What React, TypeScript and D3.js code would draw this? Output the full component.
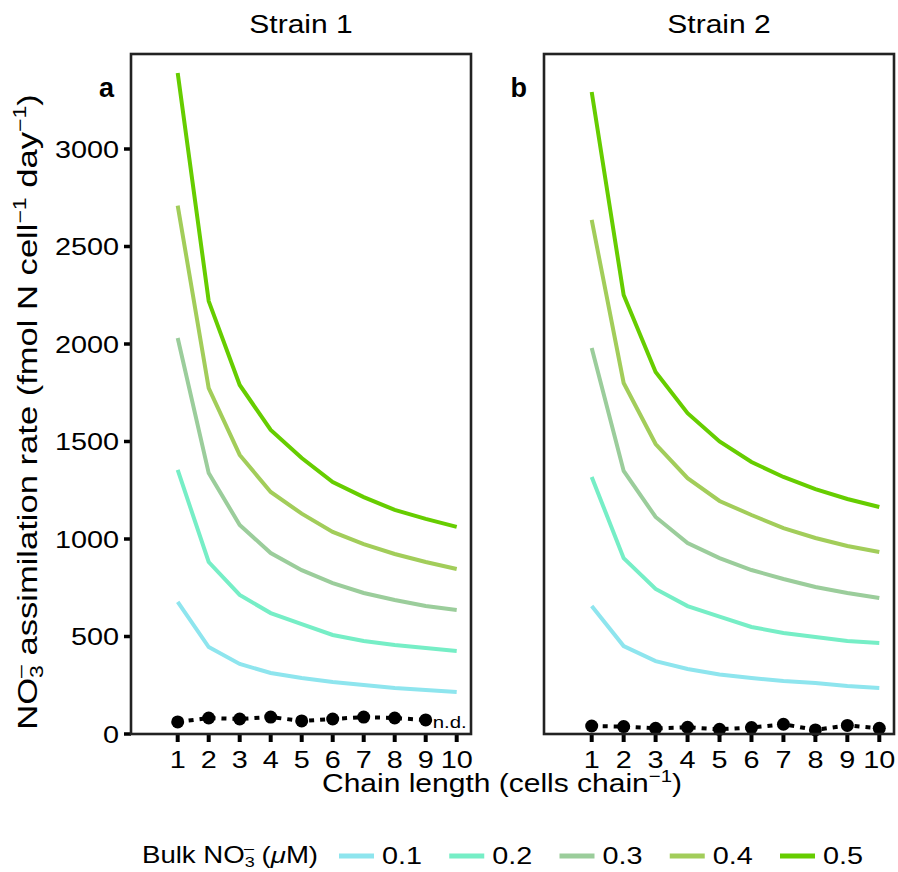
import React, { useRef, useEffect } from "react";
import * as d3 from "d3";

// chain length (cells per chain)
const chainLength = [1, 2, 3, 4, 5, 6, 7, 8, 9, 10];
const bulkLevels = ["0.1", "0.2", "0.3", "0.4", "0.5"];
const levelColors = ["#8EE5EE", "#76EEC6", "#9BCD9B", "#A2CD5A", "#66CD00"];
const yTicks = [0, 500, 1000, 1500, 2000, 2500, 3000];

// Strain 1 modelled rates
const s1Bulk01 = [677, 446, 359, 313, 287, 267, 251, 236, 226, 215];
const s1Bulk02 = [1354, 882, 713, 620, 563, 508, 477, 456, 441, 426];
const s1Bulk03 = [2031, 1338, 1072, 928, 840, 774, 723, 687, 656, 636];
const s1Bulk04 = [2710, 1774, 1431, 1241, 1130, 1036, 974, 923, 882, 846];
const s1Bulk05 = [3390, 2220, 1790, 1559, 1415, 1292, 1215, 1149, 1103, 1062];
// Strain 1 measured (chain 10 = n.d.)
const s1Measured = [62, 82, 77, 87, 67, 77, 87, 82, 72];

// Strain 2 modelled rates
const s2Bulk01 = [656, 451, 374, 333, 305, 287, 272, 262, 246, 236];
const s2Bulk02 = [1318, 902, 744, 656, 602, 549, 518, 497, 477, 467];
const s2Bulk03 = [1979, 1349, 1113, 979, 902, 841, 795, 754, 723, 697];
const s2Bulk04 = [2636, 1800, 1487, 1312, 1195, 1123, 1056, 1005, 964, 933];
const s2Bulk05 = [3292, 2251, 1856, 1645, 1500, 1395, 1318, 1256, 1205, 1164];
const s2Measured = [41, 38, 29, 34, 24, 33, 50, 21, 44, 29];

const FONT = "'Liberation Sans', Arial, Helvetica, sans-serif";
// the reference text is a bit wider than Liberation Sans
const SX = 1.2;

const App = () => {
  const svgRef = useRef(null);

  useEffect(() => {
    const svg = d3.select(svgRef.current);
    svg.selectAll("*").remove();

    const width = 898;
    const height = 872;
    svg.attr("width", width).attr("height", height).style("font-family", FONT);

    // text helper: stretched horizontally around its anchor point
    const label = (parent, x, y, size, anchor, rot = 0, sx = SX) =>
      parent
        .append("text")
        .attr("transform", `translate(${x},${y}) rotate(${rot}) scale(${sx},1)`)
        .attr("text-anchor", anchor)
        .attr("font-size", size);

    const top = 54;
    const bottom = 734;
    const y = d3.scaleLinear().domain([0, 3000]).range([bottom, 149]);

    const panels = [
      {
        title: "Strain 1",
        tag: "a",
        left: 131,
        right: 471,
        x: d3.scaleLinear().domain([1, 10]).range([177.7, 456.7]),
        series: [s1Bulk01, s1Bulk02, s1Bulk03, s1Bulk04, s1Bulk05],
        measured: s1Measured,
        yAxis: true,
        nd: true,
      },
      {
        title: "Strain 2",
        tag: "b",
        left: 544,
        right: 894,
        x: d3.scaleLinear().domain([1, 10]).range([591.7, 879.3]),
        series: [s2Bulk01, s2Bulk02, s2Bulk03, s2Bulk04, s2Bulk05],
        measured: s2Measured,
        yAxis: false,
        nd: false,
      },
    ];

    panels.forEach((p) => {
      const g = svg.append("g");

      // strip title
      label(g, (p.left + p.right) / 2, 33, 25, "middle").text(p.title);

      // panel tag
      label(g, p.left - 17, 97, 27, "end", 0, 1)
        .attr("font-weight", "bold")
        .text(p.tag);

      const line = d3
        .line<number>()
        .x((d, i) => p.x(chainLength[i]))
        .y((d) => y(d));

      p.series.forEach((vals, k) => {
        g.append("path")
          .attr("d", line(vals))
          .attr("fill", "none")
          .attr("stroke", levelColors[k])
          .attr("stroke-width", 4);
      });

      // measured values
      g.append("path")
        .attr("d", line(p.measured))
        .attr("fill", "none")
        .attr("stroke", "#000")
        .attr("stroke-width", 4)
        .attr("stroke-dasharray", "5,6");

      g.selectAll("circle.m")
        .data(p.measured)
        .enter()
        .append("circle")
        .attr("cx", (d, i) => p.x(chainLength[i]))
        .attr("cy", (d) => y(d))
        .attr("r", 6.5)
        .attr("fill", "#000");

      if (p.nd) {
        label(g, p.x(10) - 7, y(60), 17, "middle")
          .attr("dy", "0.35em")
          .text("n.d.");
      }

      // x ticks
      chainLength.forEach((c) => {
        g.append("line")
          .attr("x1", p.x(c))
          .attr("x2", p.x(c))
          .attr("y1", bottom)
          .attr("y2", bottom + 8)
          .attr("stroke", "#000")
          .attr("stroke-width", 4);
        label(g, p.x(c), 768, 24, "middle").text(c);
      });

      if (p.yAxis) {
        yTicks.forEach((t) => {
          g.append("line")
            .attr("x1", p.left - 7)
            .attr("x2", p.left)
            .attr("y1", y(t))
            .attr("y2", y(t))
            .attr("stroke", "#000")
            .attr("stroke-width", 3.5);
          label(g, p.left - 12, y(t), 24, "end")
            .attr("dy", "0.36em")
            .text(t);
        });
      }

      // panel border
      g.append("rect")
        .attr("x", p.left)
        .attr("y", top)
        .attr("width", p.right - p.left)
        .attr("height", bottom - top)
        .attr("fill", "none")
        .attr("stroke", "#222")
        .attr("stroke-width", 2.6);
    });

    // y axis title
    const yt = label(svg, 37, 412, 27, "middle", -90, 1.28);
    yt.append("tspan").text("NO");
    yt.append("tspan").attr("font-size", 18).attr("dy", 6).text("3");
    yt.append("tspan").attr("font-size", 18).attr("dx", -10).attr("dy", -17).text("\u2013");
    yt.append("tspan").attr("dy", 11).text(" assimilation rate (fmol N cell");
    yt.append("tspan").attr("font-size", 18).attr("dy", -11).text("\u22121");
    yt.append("tspan").attr("dy", 11).text(" day");
    yt.append("tspan").attr("font-size", 18).attr("dy", -11).text("\u22121");
    yt.append("tspan").attr("dy", 11).text(")");

    // x axis title
    const xt = label(svg, 502, 792, 25, "middle");
    xt.append("tspan").text("Chain length (cells chain");
    xt.append("tspan").attr("font-size", 17).attr("dy", -10).text("\u22121");
    xt.append("tspan").attr("dy", 10).text(")");

    // legend
    const lg = svg.append("g");
    const lt = label(lg, 142, 863, 23, "start");
    lt.append("tspan").text("Bulk NO");
    lt.append("tspan").attr("font-size", 15).attr("dy", 4).text("3");
    lt.append("tspan").attr("font-size", 15).attr("dx", -9).attr("dy", -14).text("\u2013");
    lt.append("tspan").attr("dy", 10).text(" (");
    lt.append("tspan").attr("font-style", "italic").text("\u03bc");
    lt.append("tspan").text("M)");

    const legendX = d3.scaleLinear().domain([0, 4]).range([339, 780]);
    bulkLevels.forEach((lvl, k) => {
      lg.append("line")
        .attr("x1", legendX(k))
        .attr("x2", legendX(k) + 35)
        .attr("y1", 856)
        .attr("y2", 856)
        .attr("stroke", levelColors[k])
        .attr("stroke-width", 5);
      label(lg, legendX(k) + 43, 864, 24, "start").text(lvl);
    });
  }, []);

  return (
    <svg
      ref={svgRef}
      style={{ position: "absolute", left: 0, top: 0, background: "#fff" }}
    ></svg>
  );
};

export default App;
